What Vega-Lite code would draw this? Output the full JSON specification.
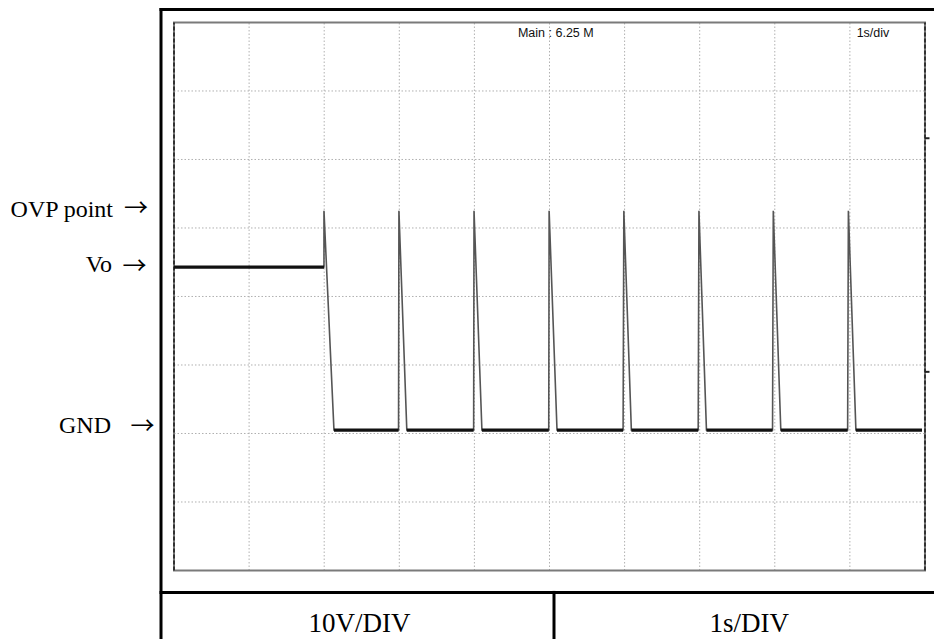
{
  "$schema": "https://vega.github.io/schema/vega-lite/v6.json",
  "width": 934,
  "height": 639,
  "autosize": {"type": "none"},
  "padding": 0,
  "background": "white",
  "config": {"view": {"stroke": null}},
  "datasets": {
    "grid": [
      {"t": 1, "t2": 1, "v": -20, "v2": 60},
      {"t": 2, "t2": 2, "v": -20, "v2": 60},
      {"t": 3, "t2": 3, "v": -20, "v2": 60},
      {"t": 4, "t2": 4, "v": -20, "v2": 60},
      {"t": 5, "t2": 5, "v": -20, "v2": 60},
      {"t": 6, "t2": 6, "v": -20, "v2": 60},
      {"t": 7, "t2": 7, "v": -20, "v2": 60},
      {"t": 8, "t2": 8, "v": -20, "v2": 60},
      {"t": 9, "t2": 9, "v": -20, "v2": 60},
      {"t": 0, "t2": 10, "v": -10, "v2": -10},
      {"t": 0, "t2": 10, "v": 0, "v2": 0},
      {"t": 0, "t2": 10, "v": 10, "v2": 10},
      {"t": 0, "t2": 10, "v": 20, "v2": 20},
      {"t": 0, "t2": 10, "v": 30, "v2": 30},
      {"t": 0, "t2": 10, "v": 40, "v2": 40},
      {"t": 0, "t2": 10, "v": 50, "v2": 50}
    ],
    "screen": [{"t": 0, "t2": 10, "v": -20, "v2": 60}],
    "edges": [
      {"t": 0, "t2": 0, "v": -20, "v2": 60},
      {"t": 10, "t2": 10, "v": -20, "v2": 60}
    ],
    "frame": [
      {"t": -0.173, "t2": -0.173, "v": 61.9, "v2": -30.5},
      {"t": -0.173, "t2": 10.2, "v": 61.9, "v2": 61.9},
      {"t": -0.173, "t2": 10.2, "v": -23.2, "v2": -23.2},
      {"t": 5.06, "t2": 5.06, "v": -23.2, "v2": -30.5}
    ],
    "marks": [
      {"t": 10.0, "t2": 10.06, "v": 43.1, "v2": 43.1},
      {"t": 10.0, "t2": 10.06, "v": 9.0, "v2": 9.0}
    ],
    "trace": [
      {"i": 0, "t": 0, "v": 24.3},
      {"i": 1, "t": 1.997, "v": 24.3},
      {"i": 2, "t": 1.997, "v": 32.5},
      {"i": 3, "t": 2.13, "v": 0.5},
      {"i": 4, "t": 2.99, "v": 0.5},
      {"i": 5, "t": 2.995, "v": 32.5},
      {"i": 6, "t": 3.1, "v": 0.5},
      {"i": 7, "t": 3.99, "v": 0.5},
      {"i": 8, "t": 3.995, "v": 32.5},
      {"i": 9, "t": 4.1, "v": 0.5},
      {"i": 10, "t": 4.99, "v": 0.5},
      {"i": 11, "t": 4.995, "v": 32.5},
      {"i": 12, "t": 5.1, "v": 0.5},
      {"i": 13, "t": 5.98, "v": 0.5},
      {"i": 14, "t": 5.99, "v": 32.5},
      {"i": 15, "t": 6.09, "v": 0.5},
      {"i": 16, "t": 6.98, "v": 0.5},
      {"i": 17, "t": 6.99, "v": 32.5},
      {"i": 18, "t": 7.09, "v": 0.5},
      {"i": 19, "t": 7.97, "v": 0.5},
      {"i": 20, "t": 7.98, "v": 32.5},
      {"i": 21, "t": 8.08, "v": 0.5},
      {"i": 22, "t": 8.97, "v": 0.5},
      {"i": 23, "t": 8.98, "v": 32.5},
      {"i": 24, "t": 9.08, "v": 0.5},
      {"i": 25, "t": 9.96, "v": 0.5}
    ],
    "flats": [
      {"seg": "vo", "t": 0, "v": 24.3},
      {"seg": "vo", "t": 1.997, "v": 24.3},
      {"seg": "g1", "t": 2.13, "v": 0.5},
      {"seg": "g1", "t": 2.99, "v": 0.5},
      {"seg": "g2", "t": 3.1, "v": 0.5},
      {"seg": "g2", "t": 3.99, "v": 0.5},
      {"seg": "g3", "t": 4.1, "v": 0.5},
      {"seg": "g3", "t": 4.99, "v": 0.5},
      {"seg": "g4", "t": 5.1, "v": 0.5},
      {"seg": "g4", "t": 5.98, "v": 0.5},
      {"seg": "g5", "t": 6.09, "v": 0.5},
      {"seg": "g5", "t": 6.98, "v": 0.5},
      {"seg": "g6", "t": 7.09, "v": 0.5},
      {"seg": "g6", "t": 7.97, "v": 0.5},
      {"seg": "g7", "t": 8.08, "v": 0.5},
      {"seg": "g7", "t": 8.97, "v": 0.5},
      {"seg": "g8", "t": 9.08, "v": 0.5},
      {"seg": "g8", "t": 9.96, "v": 0.5}
    ],
    "sideLabels": [
      {"t": -0.812, "v": 31.65, "label": "OVP point"},
      {"t": -0.826, "v": 23.6, "label": "Vo"},
      {"t": -0.839, "v": 0.0, "label": "GND"}
    ],
    "arrows": [
      {"t": -0.506, "v": 32.8, "label": "→"},
      {"t": -0.526, "v": 24.3, "label": "→"},
      {"t": -0.419, "v": 0.9, "label": "→"}
    ],
    "footLabels": [
      {"t": 2.47, "v": -28.98, "label": "10V/DIV"},
      {"t": 7.66, "v": -28.98, "label": "1s/DIV"}
    ],
    "scopeLabels": [
      {"t": 4.58, "v": 57.9, "label": "Main : 6.25 M"},
      {"t": 9.09, "v": 57.9, "label": "1s/div"}
    ]
  },
  "layer": [
    {
      "data": {"name": "grid"},
      "mark": {"type": "rule", "color": "#b0b0b0", "strokeWidth": 1, "strokeDash": [1.5, 2]},
      "encoding": {
        "x": {"field": "t", "type": "quantitative", "scale": {"domain": [-2.317, 10.12], "nice": false, "zero": false}, "axis": null},
        "x2": {"field": "t2"},
        "y": {"field": "v", "type": "quantitative", "scale": {"domain": [-30.0, 63.28], "nice": false, "zero": false}, "axis": null},
        "y2": {"field": "v2"}
      }
    },
    {
      "data": {"name": "screen"},
      "mark": {"type": "rect", "fill": null, "stroke": "#7a7a7a", "strokeWidth": 2},
      "encoding": {
        "x": {"field": "t", "type": "quantitative"},
        "x2": {"field": "t2"},
        "y": {"field": "v", "type": "quantitative"},
        "y2": {"field": "v2"}
      }
    },
    {
      "data": {"name": "edges"},
      "mark": {"type": "rule", "color": "#333", "strokeWidth": 2, "strokeDash": [4, 2]},
      "encoding": {
        "x": {"field": "t", "type": "quantitative"},
        "x2": {"field": "t2"},
        "y": {"field": "v", "type": "quantitative"},
        "y2": {"field": "v2"}
      }
    },
    {
      "data": {"name": "frame"},
      "mark": {"type": "rule", "color": "black", "strokeWidth": 3, "strokeCap": "square"},
      "encoding": {
        "x": {"field": "t", "type": "quantitative"},
        "x2": {"field": "t2"},
        "y": {"field": "v", "type": "quantitative"},
        "y2": {"field": "v2"}
      }
    },
    {
      "data": {"name": "marks"},
      "mark": {"type": "rule", "color": "#222", "strokeWidth": 2},
      "encoding": {
        "x": {"field": "t", "type": "quantitative"},
        "x2": {"field": "t2"},
        "y": {"field": "v", "type": "quantitative"},
        "y2": {"field": "v2"}
      }
    },
    {
      "data": {"name": "trace"},
      "mark": {"type": "line", "color": "#555", "strokeWidth": 1.6},
      "encoding": {
        "x": {"field": "t", "type": "quantitative"},
        "y": {"field": "v", "type": "quantitative"},
        "order": {"field": "i", "type": "quantitative"}
      }
    },
    {
      "data": {"name": "flats"},
      "mark": {"type": "line", "color": "#111", "strokeWidth": 3.2},
      "encoding": {
        "x": {"field": "t", "type": "quantitative"},
        "y": {"field": "v", "type": "quantitative"},
        "detail": {"field": "seg", "type": "nominal"}
      }
    },
    {
      "data": {"name": "sideLabels"},
      "mark": {"type": "text", "align": "right", "baseline": "alphabetic", "font": "Liberation Serif", "fontSize": 24, "color": "black"},
      "encoding": {
        "x": {"field": "t", "type": "quantitative"},
        "y": {"field": "v", "type": "quantitative"},
        "text": {"field": "label"}
      }
    },
    {
      "data": {"name": "arrows"},
      "mark": {"type": "text", "align": "center", "baseline": "middle", "font": "Noto Sans CJK SC", "fontSize": 24, "color": "black"},
      "encoding": {
        "x": {"field": "t", "type": "quantitative"},
        "y": {"field": "v", "type": "quantitative"},
        "text": {"field": "label"}
      }
    },
    {
      "data": {"name": "footLabels"},
      "mark": {"type": "text", "align": "center", "baseline": "alphabetic", "font": "Liberation Serif", "fontSize": 27, "color": "black"},
      "encoding": {
        "x": {"field": "t", "type": "quantitative"},
        "y": {"field": "v", "type": "quantitative"},
        "text": {"field": "label"}
      }
    },
    {
      "data": {"name": "scopeLabels"},
      "mark": {"type": "text", "align": "left", "baseline": "alphabetic", "font": "Liberation Sans", "fontSize": 12.5, "color": "#111"},
      "encoding": {
        "x": {"field": "t", "type": "quantitative"},
        "y": {"field": "v", "type": "quantitative"},
        "text": {"field": "label"}
      }
    }
  ]
}
